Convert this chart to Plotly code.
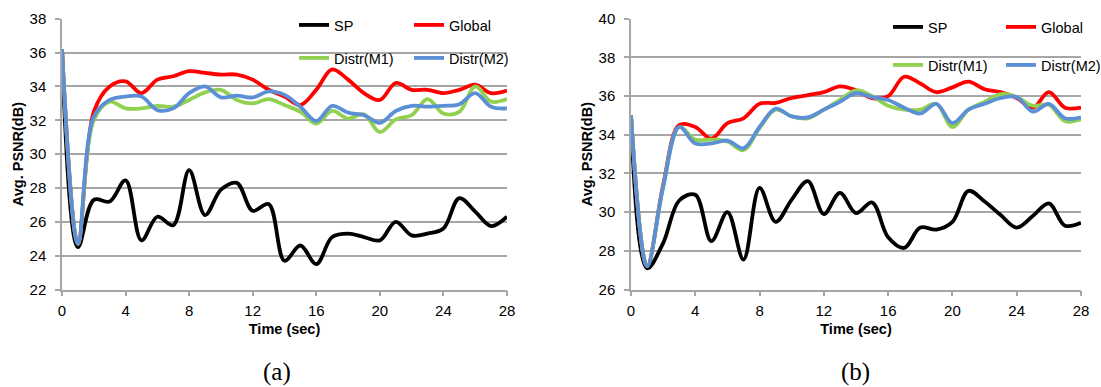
import plotly.graph_objects as go

time_sec = list(range(29))

# Panel (a)
sp_a = [36.2, 24.5, 27.3, 27.2, 28.45, 24.9, 26.3, 25.8, 29.05, 26.4, 27.9, 28.3, 26.65, 27.05, 23.7,
        24.6, 23.5, 25.1, 25.3, 25.1, 24.9, 26.0, 25.2, 25.3, 25.6, 27.4, 26.6, 25.75, 26.3]
global_a = [36.2, 24.7, 32.5, 34.0, 34.3, 33.6, 34.4, 34.6, 34.9, 34.8, 34.7, 34.7, 34.4, 33.8, 33.4,
            32.9, 33.8, 35.0, 34.4, 33.6, 33.2, 34.2, 33.8, 33.8, 33.6, 33.8, 34.1, 33.6, 33.75]
m1_a = [36.2, 24.7, 32.0, 33.1, 32.7, 32.7, 32.85, 32.8, 33.2, 33.65, 33.8, 33.2, 33.0, 33.25, 32.9,
        32.5, 31.8, 32.55, 32.1, 32.35, 31.3, 32.05, 32.3, 33.25, 32.4, 32.5, 34.0, 33.1, 33.25]
m2_a = [36.2, 24.7, 32.2, 33.2, 33.4, 33.4, 32.6, 32.7, 33.6, 34.0, 33.35, 33.45, 33.35, 33.7, 33.5,
        32.8, 31.95, 32.85, 32.45, 32.3, 31.85, 32.55, 32.85, 32.8, 32.85, 32.95, 33.6, 32.8, 32.7]

# Panel (b)
sp_b = [35.0, 27.1, 28.4, 30.6, 30.9, 28.5, 30.0, 27.55, 31.25, 29.5, 30.65, 31.6, 29.9, 31.0, 29.95,
        30.5, 28.7, 28.15, 29.2, 29.1, 29.5, 31.1, 30.55, 29.85, 29.2, 29.8, 30.45, 29.3, 29.45]
global_b = [35.0, 27.2, 31.4, 34.5, 34.4, 33.8, 34.6, 34.85, 35.6, 35.65, 35.9, 36.05, 36.2, 36.5, 36.3,
            35.9, 36.0, 37.0, 36.65, 36.2, 36.45, 36.75, 36.35, 36.2, 35.9, 35.4, 36.2, 35.4, 35.4]
m1_b = [35.0, 27.2, 31.3, 34.4, 33.75, 33.75, 33.65, 33.2, 34.35, 35.3, 34.95, 34.85, 35.3, 35.8, 36.3,
        36.0, 35.5, 35.3, 35.3, 35.6, 34.4, 35.3, 35.7, 36.1, 35.95, 35.5, 35.55, 34.7, 34.8]
m2_b = [35.0, 27.2, 31.3, 34.4, 33.55, 33.55, 33.7, 33.3, 34.4, 35.35, 34.95, 34.9, 35.3, 35.7, 36.15,
        35.95, 35.8, 35.4, 35.1, 35.6, 34.6, 35.3, 35.6, 35.9, 35.95, 35.2, 35.6, 34.85, 34.9]

series_names = ["SP", "Global", "Distr(M1)", "Distr(M2)"]
colors = ["#000000", "#FF0000", "#92D050", "#5B8FD6"]
x_ticks = [0, 4, 8, 12, 16, 20, 24, 28]
panel_labels = ["(a)", "(b)"]

W, H = 1101, 387
def px_x(p):
    return p / W
def px_y(p):
    return 1 - p / H

fig = go.Figure()

panels = [
    dict(data=[sp_a, global_a, m1_a, m2_a], xa="x", ya="y"),
    dict(data=[sp_b, global_b, m1_b, m2_b], xa="x2", ya="y2"),
]
# legend positions (pixel): [left of entry, center y]
legend_pos = [
    [(294, 25), (409, 25), (294, 58), (409, 58)],
    [(888, 27), (1001, 27), (888, 65), (1001, 65)],
]
leg_idx = 1
legends = {}
for pi, p in enumerate(panels):
    for si, (name, col, vals) in enumerate(zip(series_names, colors, p["data"])):
        lname = "legend" if leg_idx == 1 else f"legend{leg_idx}"
        fig.add_trace(go.Scatter(
            x=time_sec, y=vals, mode="lines", name=name,
            line=dict(color=col, width=3.8, shape="spline", smoothing=1.0),
            xaxis=p["xa"], yaxis=p["ya"], legend=lname, showlegend=True,
        ))
        lx, ly = legend_pos[pi][si]
        legends[lname] = dict(
            x=px_x(lx), y=px_y(ly), xanchor="left", yanchor="middle",
            bgcolor="rgba(0,0,0,0)", borderwidth=0,
            font=dict(family="Liberation Sans, Arial, sans-serif", size=14.5, color="#000000"),
            itemwidth=30,
        )
        leg_idx += 1

axis_font = dict(family="Liberation Sans, Arial, sans-serif", size=15, color="#000000")
title_font = dict(family="Liberation Sans, Arial, sans-serif", size=14.5, color="#000000")
grid_col = "#A6A6A6"

common_x = dict(
    tickmode="array", tickvals=x_ticks, ticktext=[str(v) for v in x_ticks],
    showgrid=False, zeroline=False, showline=True, linecolor=grid_col, linewidth=1.5,
    ticks="outside", ticklen=5, tickwidth=1.5, tickcolor=grid_col,
    tickfont=axis_font, ticklabelstandoff=2, automargin=False,
    title=dict(text="<b>Time (sec)</b>", font=title_font, standoff=6),
)
common_y = dict(
    showgrid=True, gridcolor=grid_col, gridwidth=1.5, zeroline=False,
    showline=True, linecolor=grid_col, linewidth=1.5,
    ticks="outside", ticklen=5, tickwidth=1.5, tickcolor=grid_col,
    tickfont=axis_font, dtick=2, ticklabelstandoff=6, automargin=False,
    title=dict(text="<b>Avg. PSNR(dB)</b>", font=title_font, standoff=2),
)

y_dom = [px_y(289.5), px_y(18.7)]

fig.update_layout(
    width=W, height=H,
    margin=dict(l=0, r=0, t=0, b=0, autoexpand=False),
    paper_bgcolor="white", plot_bgcolor="white",
    xaxis=dict(common_x, domain=[px_x(62), px_x(507)], range=[0, 28], anchor="y"),
    yaxis=dict(common_y, domain=y_dom, range=[22, 38], anchor="x"),
    xaxis2=dict(common_x, domain=[px_x(631), px_x(1081)], range=[0, 28], anchor="y2"),
    yaxis2=dict(common_y, domain=y_dom, range=[26, 40], anchor="x2"),
    **legends,
)

for lab, cx in zip(panel_labels, [277, 855]):
    fig.add_annotation(
        text=lab, xref="paper", yref="paper", x=px_x(cx), y=px_y(372),
        xanchor="center", yanchor="middle", showarrow=False,
        font=dict(family="Liberation Serif, DejaVu Serif, serif", size=25, color="#000000"),
    )

fig.write_html(
    "out.html",
    config={"displayModeBar": False},
    post_script="document.body.style.margin='0px';document.body.style.overflow='hidden';",
)
